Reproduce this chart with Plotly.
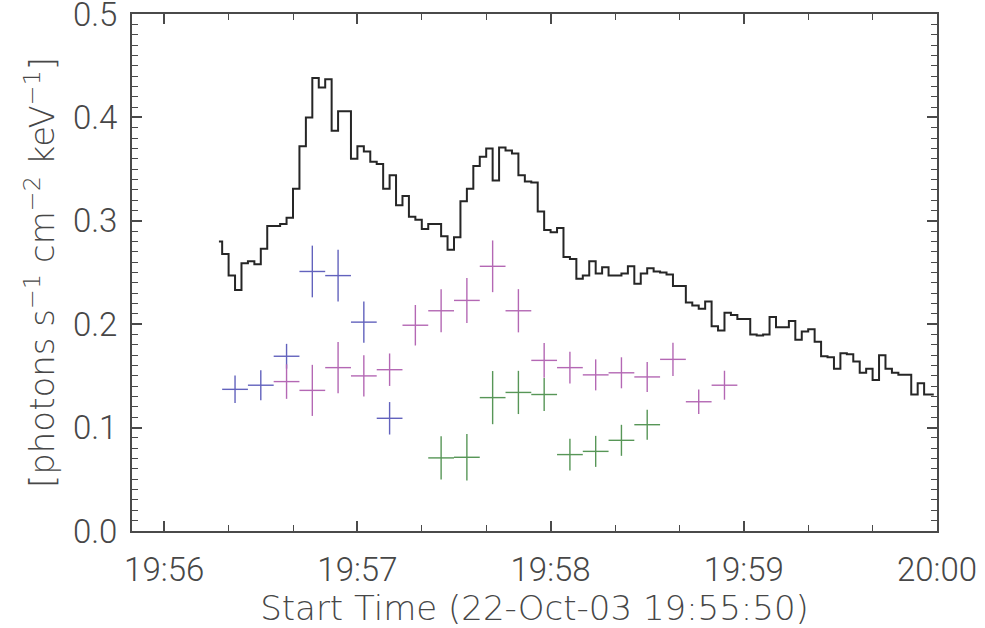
import plotly.graph_objects as go

# Time in seconds after 19:55:50 (start time)
step_t0 = 27      # centre of first 2-s bin
step_dt = 2
step_values = [
    0.280, 0.268, 0.247, 0.233, 0.259, 0.261, 0.258, 0.273, 0.295, 0.295,
    0.297, 0.303, 0.331, 0.372, 0.400, 0.438, 0.429, 0.437, 0.387, 0.406,
    0.406, 0.360, 0.372, 0.367, 0.357, 0.355, 0.331, 0.344, 0.315, 0.324,
    0.304, 0.301, 0.292, 0.297, 0.297, 0.285, 0.272, 0.284, 0.319, 0.331,
    0.353, 0.362, 0.370, 0.339, 0.371, 0.368, 0.365, 0.344, 0.338, 0.337,
    0.309, 0.291, 0.289, 0.293, 0.265, 0.263, 0.244, 0.247, 0.261, 0.249,
    0.255, 0.247, 0.247, 0.249, 0.256, 0.239, 0.249, 0.254, 0.251, 0.250,
    0.248, 0.237, 0.237, 0.221, 0.218, 0.215, 0.222, 0.198, 0.194, 0.211,
    0.209, 0.205, 0.205, 0.190, 0.189, 0.190, 0.207, 0.197, 0.197, 0.203,
    0.185, 0.193, 0.195, 0.183, 0.169, 0.168, 0.157, 0.172, 0.171, 0.164,
    0.153, 0.157, 0.146, 0.170, 0.157, 0.153, 0.151, 0.151, 0.132, 0.143,
    0.132, 0.132,
]
step_times = [step_t0 + step_dt * i for i in range(len(step_values))]

cross_halfwidth = 4  # seconds (8-s bins)

blue_t = [32, 40, 48, 56, 64, 72, 80]
blue_v = [0.137, 0.141, 0.169, 0.251, 0.247, 0.202, 0.109]
blue_e = [0.0133, 0.0145, 0.012, 0.025, 0.025, 0.020, 0.0157]

magenta_t = [48, 56, 64, 72, 80, 88, 96, 104, 112, 120, 128, 136, 144, 152, 160, 168, 176, 184]
magenta_v = [0.1445, 0.136, 0.158, 0.150, 0.156, 0.199, 0.213, 0.223, 0.256, 0.213,
             0.165, 0.158, 0.151, 0.153, 0.149, 0.166, 0.125, 0.141]
magenta_e = [0.0167, 0.0247, 0.0247, 0.020, 0.0157, 0.0196, 0.0209, 0.0218, 0.025, 0.0209,
             0.0167, 0.0154, 0.015, 0.015, 0.0145, 0.016, 0.0118, 0.014]

green_t = [96, 104, 112, 120, 128, 136, 144, 152, 160]
green_v = [0.0707, 0.0713, 0.129, 0.134, 0.132, 0.0739, 0.077, 0.0877, 0.1028]
green_e = [0.021, 0.0225, 0.0257, 0.0209, 0.016, 0.0154, 0.015, 0.015, 0.0145]

x_tick_vals = [10, 70, 130, 190, 250]
x_tick_text = ["19:56", "19:57", "19:58", "19:59", "20:00"]
y_tick_vals = [0.0, 0.1, 0.2, 0.3, 0.4, 0.5]
y_tick_text = ["0.0", "0.1", "0.2", "0.3", "0.4", "0.5"]

TICKFONT = dict(family="Roboto", size=33, color="#474747", weight=300)
TITLEFONT = dict(family="DejaVu Sans", size=34, color="#474747", weight=300)
AX = "#4a4a4a"
X_RANGE = [0, 250]
Y_RANGE = [0, 0.5]

fig = go.Figure()

fig.add_trace(go.Scatter(
    x=step_times, y=step_values, mode="lines",
    line=dict(color="#262626", width=2, shape="hvh"),
    showlegend=False, hoverinfo="skip",
))


def add_crosses(t, v, e, color):
    fig.add_trace(go.Scatter(
        x=t, y=v, mode="markers",
        marker=dict(size=1, color="rgba(0,0,0,0)"),
        error_x=dict(type="constant", value=cross_halfwidth, color=color, thickness=1.4, width=0),
        error_y=dict(type="data", array=e, color=color, thickness=1.4, width=0),
        showlegend=False, hoverinfo="skip",
    ))


add_crosses(blue_t, blue_v, blue_e, "#6262bd")
add_crosses(magenta_t, magenta_v, magenta_e, "#b468b4")
add_crosses(green_t, green_v, green_e, "#579657")

# invisible trace to anchor the mirrored (top/right) tick axes
fig.add_trace(go.Scatter(x=[X_RANGE[0]], y=[Y_RANGE[0]], xaxis="x2", yaxis="y2",
                         mode="markers", marker=dict(size=1, color="rgba(0,0,0,0)"),
                         showlegend=False, hoverinfo="skip"))

major = dict(ticks="inside", ticklen=10, tickwidth=1.5, tickcolor=AX)
xminor = dict(tickmode="linear", tick0=10, dtick=20, ticks="inside", ticklen=6, tickcolor=AX, tickwidth=1.2)
yminor = dict(tickmode="linear", tick0=0, dtick=0.01, ticks="inside", ticklen=6, tickcolor=AX, tickwidth=1.2)

fig.update_layout(
    width=985, height=628,
    margin=dict(l=132, r=48, t=14, b=97, autoexpand=False),
    paper_bgcolor="white", plot_bgcolor="white",
    font=TICKFONT,
    xaxis=dict(
        range=X_RANGE, tickmode="array", tickvals=x_tick_vals, ticktext=x_tick_text,
        tickfont=TICKFONT, minor=xminor, **major,
        showline=True, linecolor=AX, linewidth=2, mirror=True,
        showgrid=False, zeroline=False, ticklabeloverflow="allow", automargin=False,
        ticklabelstandoff=8,
        title=dict(text="Start Time (22-Oct-03 19:55:50)", standoff=3, font=TITLEFONT),
    ),
    yaxis=dict(
        range=Y_RANGE, tickmode="array", tickvals=y_tick_vals, ticktext=y_tick_text,
        tickfont=TICKFONT, minor=yminor, **major,
        showline=True, linecolor=AX, linewidth=2, mirror=True,
        showgrid=False, zeroline=False, ticklabeloverflow="allow", automargin=False,
        ticklabelstandoff=6,
        title=dict(text="[photons s<sup>−1</sup> cm<sup>−2</sup> keV<sup>−1</sup>]",
                   standoff=8, font=TITLEFONT),
    ),
    xaxis2=dict(
        range=X_RANGE, overlaying="x", side="top", anchor="y2", automargin=False,
        tickmode="array", tickvals=x_tick_vals, showticklabels=False,
        minor=xminor, **major, showline=False, showgrid=False, zeroline=False,
    ),
    yaxis2=dict(
        range=Y_RANGE, overlaying="y", side="right", anchor="x2", automargin=False,
        tickmode="array", tickvals=y_tick_vals, showticklabels=False,
        minor=yminor, **major, showline=False, showgrid=False, zeroline=False,
    ),
)

fig.write_html("out.html")
